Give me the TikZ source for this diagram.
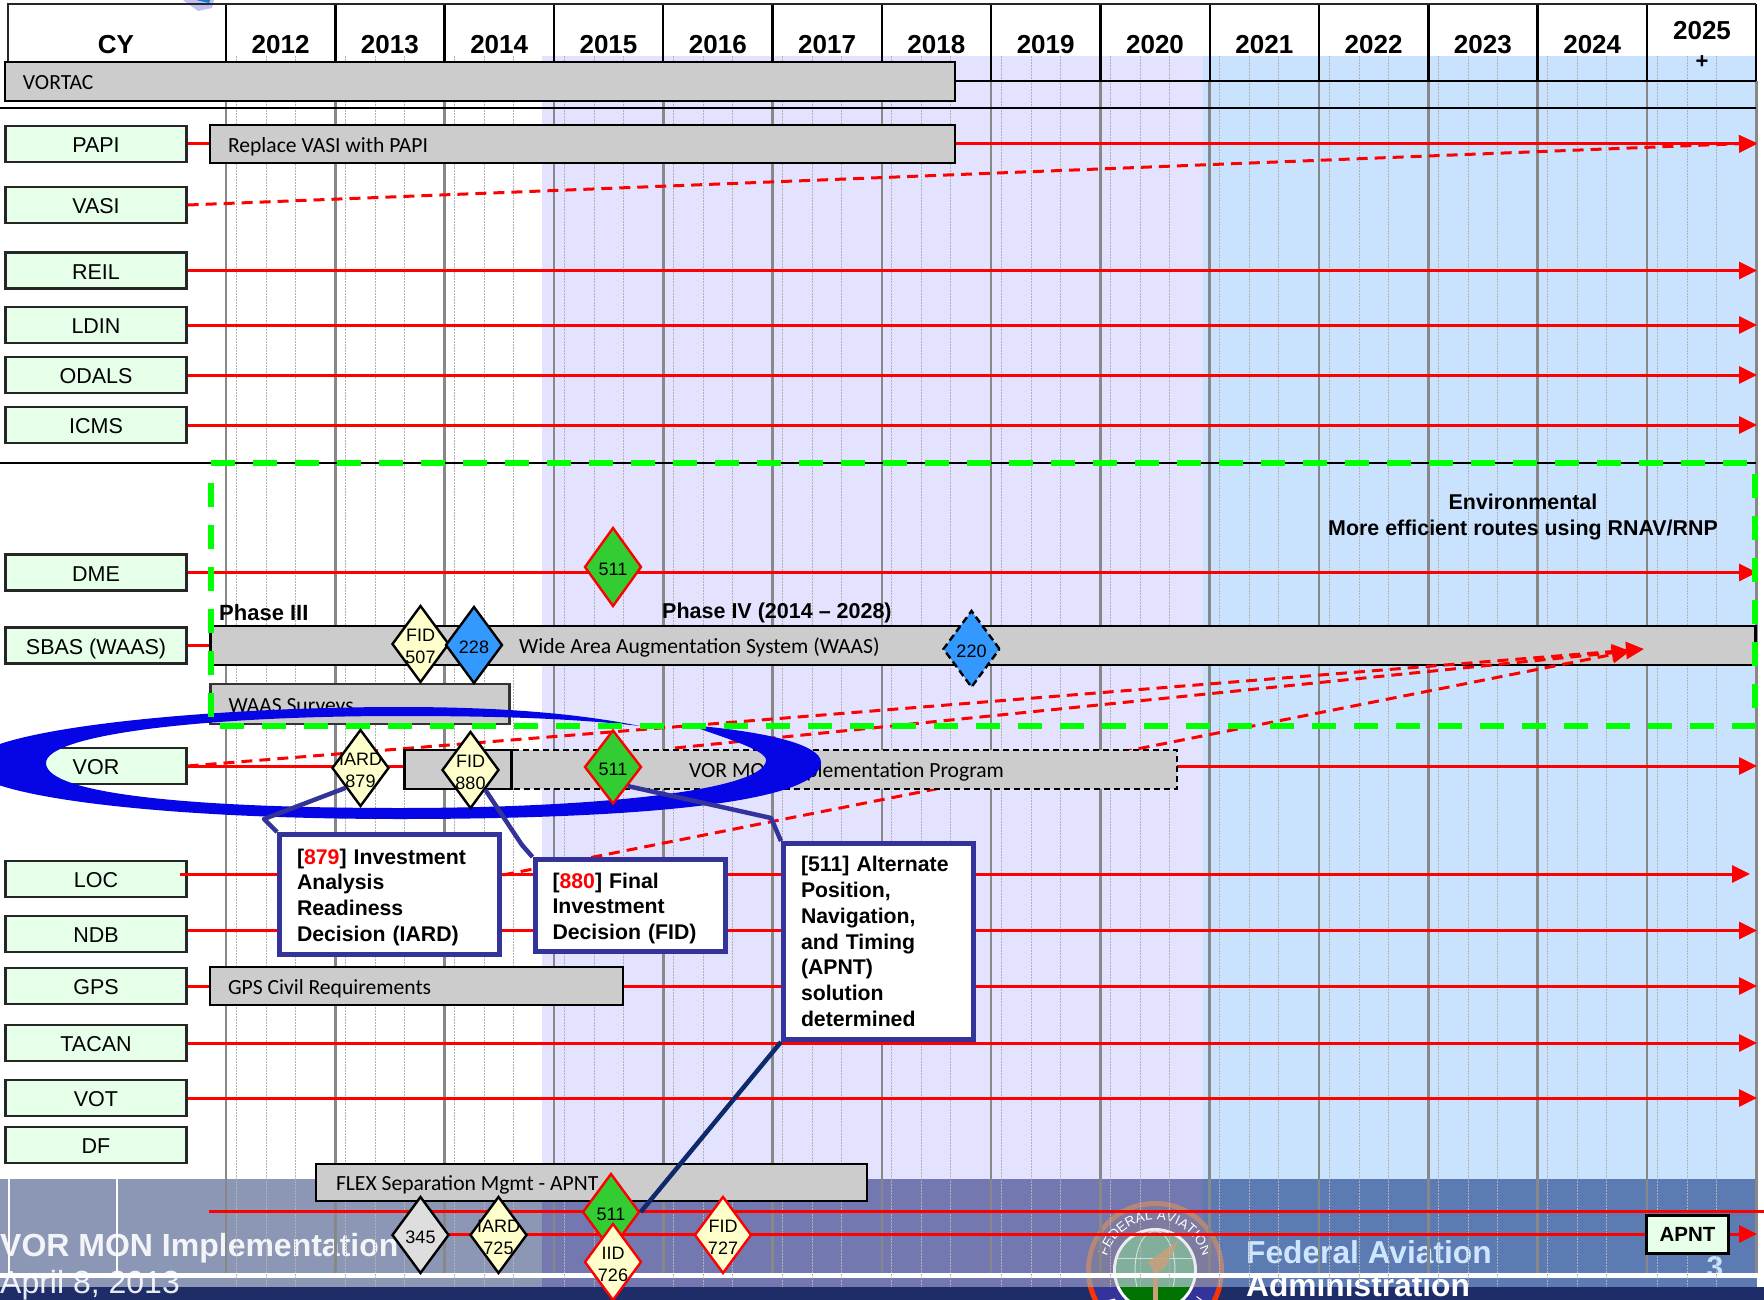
\documentclass[tikz,border=0pt]{standalone}
\usepackage{fontspec}
\setmainfont{Liberation Sans}
\newfontfamily\barfont{Carlito}
\usetikzlibrary{arrows.meta,positioning,shapes.geometric,decorations.text}
\definecolor{lilac}{HTML}{E3E3FF}
\definecolor{skyband}{HTML}{C9E3FF}
\definecolor{footleft}{HTML}{8C97B6}
\definecolor{footmid}{HTML}{7379B0}
\definecolor{footright}{HTML}{5B7BB2}
\definecolor{navyfoot}{HTML}{1E2C68}
\definecolor{mintbox}{HTML}{E5FFE8}
\definecolor{barfill}{HTML}{CCCCCC}
\definecolor{paleyellow}{HTML}{FFFFCC}
\definecolor{msgreen}{HTML}{33CC33}
\definecolor{msblue}{HTML}{3399FF}
\definecolor{ringblue}{HTML}{0505E6}
\definecolor{calloutblue}{HTML}{333399}
\definecolor{calloutnavy}{HTML}{0F2A6B}
\definecolor{zonegreen}{HTML}{00FF00}
\definecolor{gridgray}{HTML}{888888}
\definecolor{sealring}{HTML}{C08A70}
\definecolor{sealglobe}{HTML}{6FA58E}
\definecolor{sealwing}{HTML}{C9A07A}
\tikzset{
  sysbox/.style={
    rectangle, draw=black!85, fill=mintbox, line width=2.2pt,
    minimum width=181pt, minimum height=36pt, inner sep=0pt,
    font=\fontsize{21.5}{26}\selectfont, text height=17pt, text depth=0pt
  },
  barbox/.style={
    rectangle, draw=black, fill=barfill, line width=2.4pt, inner sep=0pt
  },
  barlabel/.style={
    font=\barfont\fontsize{21.6}{24}\selectfont, inner sep=0pt,
    text height=16.5pt, text depth=0pt
  },
  yearlabel/.style={
    font=\bfseries\fontsize{26}{30}\selectfont, anchor=base, inner sep=0pt
  },
  yearrule/.style={line width=2.4pt, draw=black},
  yeargrid/.style={line width=2.6pt, draw=gridgray},
  subgrid/.style={line width=0.7pt, draw=black!30, dash pattern=on 2pt off 1pt},
  planline/.style={line width=3pt, draw=red},
  planarrow/.style={planline, -{Triangle[length=18pt,width=17pt]}},
  optarrow/.style={planarrow, dash pattern=on 11pt off 7pt},
  zoneline/.style={line width=5.5pt, draw=zonegreen, dash pattern=on 24pt off 18pt},
  callout/.style={
    rectangle, draw=calloutblue, fill=white, line width=5pt, align=left,
    font=\bfseries\fontsize{21.25}{25.8}\selectfont, inner sep=0pt
  },
  calloutline/.style={line width=4.5pt, draw=calloutblue, line join=round},
  milestone/.style={
    diamond, line width=2.4pt, inner sep=0pt,
    minimum width=57pt, minimum height=77pt,
    label={[font=\fontsize{18}{22}\selectfont, align=center, inner sep=0pt, yshift=-2pt]center:#1}
  },
  gatedraft/.style={milestone={#1}, draw=black, fill=paleyellow},
  gatered/.style={milestone={#1}, draw=red, fill=paleyellow},
  greenstone/.style={milestone={#1}, draw=red, fill=msgreen},
  bluestone/.style={milestone={#1}, draw=black, fill=msblue},
}

\begin{document}
\begin{tikzpicture}[x=1pt, y=-1pt]
  \useasboundingbox (0,0) rectangle (1764,1300);

  % Coloured periods and footer
  \fill[white] (0,0) rectangle (1764,1300);
  \fill[lilac] (542,56) rectangle (1203,1179);
  \fill[skyband] (1203,56) rectangle (1757,1179);
  \fill[footleft] (0,1179) rectangle (542,1287);
  \fill[footmid] (542,1179) rectangle (1203,1287);
  \fill[footright] (1203,1179) rectangle (1757,1287);
  \fill[navyfoot] (0,1287) rectangle (1764,1300);
  \fill[black!20!blue!25] (183,0) -- (214,0) -- (212,8) -- (198,11) -- cycle;
  \fill[cyan!60!blue] (196,0) -- (210,0) -- (209,3) -- cycle;

  % Seal
  \begin{scope}[opacity=0.85]
    \fill[sealring] (1155,1270) circle[radius=69pt];
    \fill[footmid!85!gray] (1155,1270) circle[radius=64pt];
    \fill[white] (1155,1270) circle[radius=42pt];
    \fill[sealglobe] (1155,1270) circle[radius=39pt];
    \draw[white!75!sealglobe, line width=1pt] (1155,1270) ellipse[x radius=20pt, y radius=39pt];
    \draw[white!75!sealglobe, line width=1pt] (1116,1258) -- (1194,1258);
    \fill[sealwing] (1148,1262) -- (1179,1240) -- (1165,1268) -- (1158,1272) -- (1158,1287) -- (1153,1287) -- (1153,1270) -- cycle;
  \end{scope}
  \begin{scope}
    \clip (1086,1287) rectangle (1224,1300);
    \fill[red!60!orange] (1155,1270) circle[radius=69pt];
    \fill[calloutblue] (1155,1270) circle[radius=64pt];
    \fill[white] (1155,1270) circle[radius=42pt];
    \fill[green!45!black] (1155,1270) circle[radius=39pt];
    \fill[sealwing] (1153,1287) rectangle (1158,1300);
  \end{scope}
  \path[decorate, decoration={text along path, text align=center,
      text={|\fontsize{13.5}{14}\selectfont\color{white}|FEDERAL AVIATION}}]
    (1155,1270) ++(175:50pt) arc[start angle=175, end angle=5, radius=50pt];
  \path[decorate, decoration={text along path, text align=center,
      text={|\fontsize{14}{14}\selectfont\color{white}|ADMINISTRATION}}]
    (1155,1270) ++(190:59pt) arc[start angle=190, end angle=350, radius=59pt];

  % Footer text
  \node[anchor=base west, inner sep=0pt, text=white, opacity=0.9, font=\bfseries\fontsize{32}{36}\selectfont] (foottitle) at (0,1256) {VOR MON Implementation};
  \node[anchor=base west, inner sep=0pt, text=white, opacity=0.9, font=\fontsize{32}{36}\selectfont] (footdate) at (0,1293) {April 8, 2013};
  \node[anchor=base west, inner sep=0pt, text=skyband!90!white, font=\bfseries\fontsize{31.7}{36}\selectfont] (footfaa) at (1246,1263) {Federal Aviation};
  \node[anchor=base west, inner sep=0pt, text=white, font=\bfseries\fontsize{31.7}{36}\selectfont] (footadmin) at (1246,1296) {Administration};
  \node[anchor=base, inner sep=0pt, text=skyband, font=\bfseries\fontsize{30}{36}\selectfont] (footpage) at (1715,1277) {3};

  % White rule and year grid
  \fill[white] (0,1273) rectangle (1757,1278);
  \draw[white, line width=2pt] (8.5,1179) -- (8.5,1273);
  \draw[white, line width=2pt] (117,1179) -- (117,1273);
  \foreach \i in {0,...,13} {
    \foreach \off in {10,40,69}
      \draw[subgrid] ({226+109.3*\i+\off},56) -- ({226+109.3*\i+\off},1287);
  }
  \foreach \i in {0,...,14} {
    \draw[yeargrid] ({226+109.3*\i},81) -- ({226+109.3*\i},1273);
    \draw[yearrule] ({226+109.3*\i},4) -- ({226+109.3*\i},81);
  }

  % Header
  \draw[line width=2.4pt, draw=black!85] (8,62) -- (8,4) -- (1756,4);
  \draw[yearrule] (955,81) -- (1756,81);
  \draw[yearrule] (0,108) -- (1756,108);
  \draw[yearrule] (0,463) -- (1756,463);
  \node[yearlabel] (cy) at (116,54) {CY};
  \foreach \yr [count=\i from 0] in {2012,...,2024}
    \node[yearlabel] (y\yr) at ({280.6+109.3*\i},54) {\yr};
  \node[yearlabel] (y2025) at (1702,40) {2025};
  \node[font=\bfseries\fontsize{22}{24}\selectfont, inner sep=0pt] (yplus) at (1702,62) {+};

  % System labels
  \node[sysbox] (papi) at (96,144) {PAPI};
  \node[sysbox] (vasi) at (96,205) {VASI};
  \node[sysbox] (reil) at (96,270.5) {REIL};
  \node[sysbox] (ldin) at (96,325) {LDIN};
  \node[sysbox] (odals) at (96,375) {ODALS};
  \node[sysbox] (icms) at (96,425) {ICMS};
  \node[sysbox] (dme) at (96,572.5) {DME};
  \node[sysbox] (sbas) at (96,645.5) {SBAS (WAAS)};
  \node[sysbox] (vor) at (96,766) {VOR};
  \node[sysbox] (loc) at (96,879) {LOC};
  \node[sysbox] (ndb) at (96,934) {NDB};
  \node[sysbox] (gps) at (96,986) {GPS};
  \node[sysbox] (tacan) at (96,1043) {TACAN};
  \node[sysbox] (vot) at (96,1098) {VOT};
  \node[sysbox] (df) at (96,1145) {DF};

  % WAAS bar sits under the dashed arrows
  \node[barbox, minimum width=1545, minimum height=39] (waasbar) at (983,645.5) {};
  \node[barlabel, anchor=west] (waastext) at (519,645) {Wide Area Augmentation System (WAAS)};

  % Plan lines
  \coordinate (rightend) at (1757,0);
  \coordinate (locstart) at (180,874);
  \coordinate (locend) at (1750,874);
  \coordinate (ndbstart) at (187.5,930.5);
  \coordinate (flexstart) at (209,1211);
  \coordinate (flexend) at (1764,1211);
  \coordinate (apntstart) at (420,1234);
  \coordinate (apntend) at (1757,1234);
  \coordinate (papitip) at (1757,143);
  \coordinate (waastipa) at (1644,649);
  \coordinate (waastipb) at (1630,651);
  \coordinate (vormonout) at (675,748);
  \coordinate (locout) at (503,875);

  \draw[planarrow] (papi.east) -- (papi.east -| rightend);
  \draw[optarrow] (vasi.east) -- (papitip);
  \draw[planarrow] (reil.east) -- (reil.east -| rightend);
  \draw[planarrow] (ldin.east) -- (ldin.east -| rightend);
  \draw[planarrow] (odals.east) -- (odals.east -| rightend);
  \draw[planarrow] (icms.east) -- (icms.east -| rightend);
  \draw[planarrow] (dme.east) -- (dme.east -| rightend);
  \draw[planline] (sbas.east) -- (waasbar.west);
  \draw[planarrow] (vor.east) -- (vor.east -| rightend);
  \draw[planarrow] (locstart) -- (locend);
  \draw[planarrow] (ndbstart) -- (ndbstart -| rightend);
  \draw[planarrow] (gps.east) -- (gps.east -| rightend);
  \draw[planarrow] (tacan.east) -- (tacan.east -| rightend);
  \draw[planarrow] (vot.east) -- (vot.east -| rightend);
  \draw[planline] (flexstart) -- (flexend);
  \draw[planarrow] (apntstart) -- (apntend);
  \draw[optarrow] (vor.east) -- (waastipa);
  \draw[optarrow] (vormonout) -- (waastipb);
  \draw[optarrow] (locout) -- (waastipb);

  % Program bars
  \node[barbox, minimum width=950, minimum height=39] (vortacbar) at (480,81.5) {};
  \node[barlabel, right=19pt of vortacbar.west] (vortactext) {VORTAC};
  \node[barbox, minimum width=745, minimum height=38] (papibar) at (582.5,144) {};
  \node[barlabel, right=19pt of papibar.west] (papitext) {Replace VASI with PAPI};
  \node[barbox, draw=black!80, minimum width=299, minimum height=40] (surveybar) at (360,704) {};
  \node[barlabel, right=19pt of surveybar.west] (surveytext) {WAAS Surveys};
  \node[barbox, dash pattern=on 6pt off 4pt, minimum width=773, minimum height=39] (vormonbar) at (790.5,769.5) {};
  \node[barbox, minimum width=107, minimum height=39] (vorstub) at (458,769.5) {};
  \node[barlabel, anchor=west] (vormontext) at (689,769) {VOR MON Implementation Program};
  \node[barbox, minimum width=413, minimum height=38] (gpsbar) at (416.5,986) {};
  \node[barlabel, right=19pt of gpsbar.west] (gpstext) {GPS Civil Requirements};
  \node[barbox, minimum width=551, minimum height=37] (flexbar) at (591.5,1182.5) {};
  \node[barlabel, right=21pt of flexbar.west] (flextext) {FLEX Separation Mgmt - APNT};

  % Hand drawn ring
  \fill[ringblue] (640,726) .. controls (570,712) and (490,707) .. (400,707)
    .. controls (200,707) and (-30,730) .. (-30,765)
    .. controls (-30,795) and (150,819) .. (400,819)
    .. controls (620,819) and (821,805) .. (821,762)
    .. controls (820,745) and (770,732) .. (689,725)
    .. controls (725,738) and (766,750) .. (766,760)
    .. controls (766,790) and (600,808) .. (400,808)
    .. controls (200,808) and (46,795) .. (46,763)
    .. controls (46,735) and (200,716) .. (400,716)
    .. controls (490,716) and (570,718) .. (640,726) -- cycle;

  % Environmental zone
  \draw[zoneline] (211,463) -- (1757,463);
  \draw[zoneline] (211,483) -- (211,726);
  \draw[zoneline] (220,726) -- (1758,726);
  \draw[zoneline] (1755,474) -- (1755,726);
  \node[align=center, inner sep=0pt, font=\bfseries\fontsize{21.4}{26}\selectfont] (envtext) at (1523,517) {Environmental\\More efficient routes using RNAV/RNP};
  \node[anchor=base west, inner sep=0pt, font=\bfseries\fontsize{22}{26}\selectfont] (phase3) at (219,620) {Phase III};
  \node[anchor=base west, inner sep=0pt, font=\bfseries\fontsize{21.5}{26}\selectfont] (phase4) at (662,618) {Phase IV (2014 -- 2028)};

  % Milestones
  \node[greenstone=511, minimum height=79] (ddme) at (613,567) {};
  \node[gatedraft={FID\\507}] (d507) at (420.5,644) {};
  \node[bluestone=228] (d228) at (474,645) {};
  \node[bluestone=220, dash pattern=on 7pt off 4pt] (d220) at (971.5,649) {};
  \node[gatedraft={IARD\\879}] (d879) at (360.5,768) {};
  \node[gatedraft={FID\\880}] (d880) at (470.5,770) {};
  \node[greenstone=511, minimum height=74] (dvor) at (613,767) {};
  \node[milestone=345, draw=black, fill=black!13] (d345) at (420.5,1235) {};
  \node[gatedraft={IARD\\725}] (d725) at (498.5,1235) {};
  \node[greenstone=511] (dflex) at (611,1212) {};
  \node[gatered={IID\\726}] (d726) at (613,1262) {};
  \node[gatered={FID\\727}] (d727) at (723,1235) {};
  \node[rectangle, draw=black, fill=mintbox, line width=2.6pt, minimum width=82, minimum height=38, inner sep=0pt, font=\bfseries\fontsize{20.5}{24}\selectfont] (apnt) at (1687.5,1234.5) {APNT};

  % Callouts
  \node[callout, minimum width=220, minimum height=120, text width=185pt] (box879) at (389.5,894.5) {\rule{0pt}{21pt}[\textcolor{red}{879}] Investment\\Analysis\\Readiness\\Decision (IARD)};
  \node[callout, minimum width=190, minimum height=92, text width=155pt] (box880) at (630,905.5) {\rule{0pt}{21pt}[\textcolor{red}{880}] Final\\Investment\\Decision (FID)};
  \node[callout, minimum width=190, minimum height=196, text width=155pt] (box511) at (878.5,941.5) {[511] Alternate\\Position,\\Navigation,\\and Timing\\(APNT)\\solution\\determined};
  \coordinate (bend879) at (264,819);
  \coordinate (bend880) at (522,845);
  \coordinate (bend511) at (771,818);
  \draw[calloutline] (d879.south west) -- (bend879) -- (box879.north west);
  \draw[calloutline] (d880.south east) -- (bend880) -- (box880.north west);
  \draw[calloutline] (dvor.south east) -- (bend511) -- (box511.north west);
  \draw[calloutline, draw=calloutnavy] (box511.south west) -- (dflex.east);
\end{tikzpicture}
\end{document}
